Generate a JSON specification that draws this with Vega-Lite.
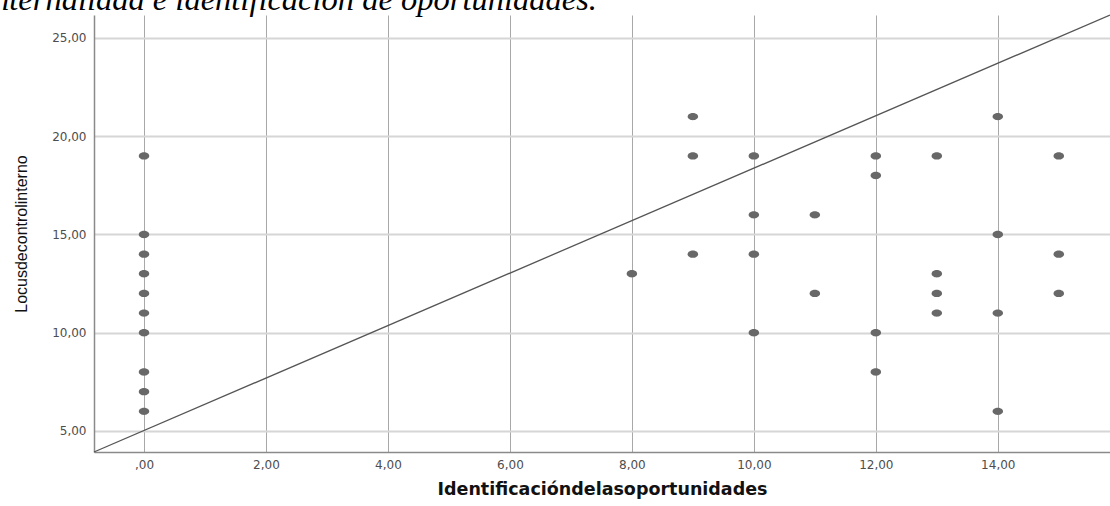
{
  "$schema": "https://vega.github.io/schema/vega-lite/v6.json",
  "width": 1016,
  "height": 437,
  "autosize": {"type": "none"},
  "padding": {"left": 94, "top": 15, "right": 0, "bottom": 54},
  "background": "white",
  "title": {
    "text": "internalidad e identificación de oportunidades.",
    "anchor": "start",
    "frame": "group",
    "dx": -110,
    "dy": 6,
    "offset": 2,
    "font": "Liberation Serif",
    "fontStyle": "italic",
    "fontWeight": "normal",
    "fontSize": 32.5,
    "color": "#000000"
  },
  "datasets": {
    "points": [
      {"x": 0, "y": 19}, {"x": 0, "y": 15}, {"x": 0, "y": 14}, {"x": 0, "y": 13}, {"x": 0, "y": 12},
      {"x": 0, "y": 11}, {"x": 0, "y": 10}, {"x": 0, "y": 8}, {"x": 0, "y": 7}, {"x": 0, "y": 6},
      {"x": 8, "y": 13},
      {"x": 9, "y": 21}, {"x": 9, "y": 19}, {"x": 9, "y": 14},
      {"x": 10, "y": 19}, {"x": 10, "y": 16}, {"x": 10, "y": 14}, {"x": 10, "y": 10},
      {"x": 11, "y": 16}, {"x": 11, "y": 12},
      {"x": 12, "y": 19}, {"x": 12, "y": 18}, {"x": 12, "y": 10}, {"x": 12, "y": 8},
      {"x": 13, "y": 19}, {"x": 13, "y": 13}, {"x": 13, "y": 12}, {"x": 13, "y": 11},
      {"x": 14, "y": 21}, {"x": 14, "y": 15}, {"x": 14, "y": 11}, {"x": 14, "y": 6},
      {"x": 15, "y": 19}, {"x": 15, "y": 14}, {"x": 15, "y": 12}
    ],
    "fit": [
      {"x": -0.82, "y": 3.93},
      {"x": 15.84, "y": 26.17}
    ]
  },
  "layer": [
    {
      "data": {"name": "points"},
      "mark": {
        "type": "point",
        "shape": "M -1 0 A 1 0.7 0 1 0 1 0 A 1 0.7 0 1 0 -1 0 Z",
        "filled": true,
        "size": 110,
        "color": "#686868",
        "opacity": 1
      },
      "encoding": {
        "x": {
          "field": "x",
          "type": "quantitative",
          "scale": {"domain": [-0.82, 15.84], "nice": false, "zero": false},
          "axis": {
            "values": [0, 2, 4, 6, 8, 10, 12, 14],
            "labelExpr": "datum.value == 0 ? ',00' : replace(format(datum.value, '.2f'), '.', ',')",
            "grid": true,
            "gridColor": "#a8a8a8",
            "gridWidth": 1,
            "domainColor": "#8a8a8a",
            "domainWidth": 1.5,
            "ticks": false,
            "labelFont": "DejaVu Sans",
            "labelFontSize": 12,
            "labelColor": "#4d4d4d",
            "labelPadding": 7,
            "title": "Identificacióndelasoportunidades",
            "titleFont": "DejaVu Sans",
            "titleFontWeight": "bold",
            "titleFontSize": 17.5,
            "titleColor": "#111111",
            "titlePadding": 10
          }
        },
        "y": {
          "field": "y",
          "type": "quantitative",
          "scale": {"domain": [3.93, 26.17], "nice": false, "zero": false},
          "axis": {
            "values": [5, 10, 15, 20, 25],
            "labelExpr": "replace(format(datum.value, '.2f'), '.', ',')",
            "grid": true,
            "gridColor": "#d6d6d6",
            "gridWidth": 2,
            "domainColor": "#8a8a8a",
            "domainWidth": 1.5,
            "ticks": false,
            "labelFont": "DejaVu Sans",
            "labelFontSize": 12,
            "labelColor": "#4d4d4d",
            "labelPadding": 8,
            "title": "Locusdecontrolinterno",
            "titleFont": "Liberation Sans",
            "titleFontWeight": "normal",
            "titleFontSize": 16,
            "titleColor": "#111111",
            "titlePadding": 22
          }
        }
      }
    },
    {
      "data": {"name": "fit"},
      "mark": {"type": "line", "color": "#555555", "strokeWidth": 1.3},
      "encoding": {
        "x": {"field": "x", "type": "quantitative"},
        "y": {"field": "y", "type": "quantitative"}
      }
    }
  ],
  "config": {
    "view": {"stroke": null}
  }
}
